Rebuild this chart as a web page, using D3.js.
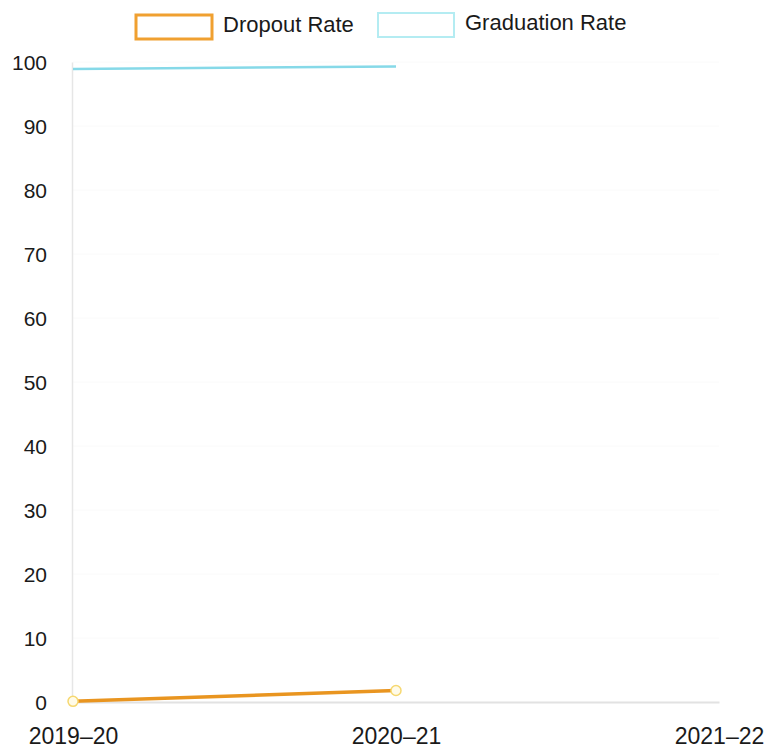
<!DOCTYPE html>
<html lang="en">
<head>
    <meta charset="UTF-8">
    <title>Dropout and Graduation Rate</title>
    <script src="https://cdnjs.cloudflare.com/ajax/libs/d3/7.8.5/d3.min.js"></script>
    <style>
        body { margin: 0; background: #fff; }
        text { font-family: "Liberation Sans", Arial, sans-serif; fill: #1a1a1a; }
    </style>
</head>
<body>
    <script>
        // Data
        var years = ["2019–20", "2020–21", "2021–22"];
        var dropoutRate = [0.1, 1.8];
        var graduationRate = [98.9, 99.3];
        var yTicks = [0, 10, 20, 30, 40, 50, 60, 70, 80, 90, 100];

        var svg = d3.select("body")
            .append("svg")
            .attr("width", 765)
            .attr("height", 750);

        // Scales
        var xScale = d3.scalePoint().domain(years).range([73, 719]);
        var yScale = d3.scaleLinear().domain([0, 100]).range([702, 62]);

        // Very faint gridlines
        svg.append("g")
            .selectAll("line")
            .data(yTicks.slice(1))
            .enter()
            .append("line")
            .attr("x1", 73).attr("x2", 719)
            .attr("y1", function(d) { return yScale(d); })
            .attr("y2", function(d) { return yScale(d); })
            .attr("stroke", "#fafafa")
            .attr("stroke-width", 1);

        // Y axis
        var yAxis = d3.axisLeft(yScale).tickValues(yTicks).tickSize(0).tickPadding(25);
        var gy = svg.append("g").attr("transform", "translate(72,0)").call(yAxis);
        gy.select(".domain").attr("stroke", "#e6e6e6").attr("stroke-width", 1.5);
        gy.selectAll("text")
            .style("font-size", "21px")
            .attr("dy", "0.35em");

        // X axis
        var xAxis = d3.axisBottom(xScale).tickSize(0).tickPadding(26);
        var gx = svg.append("g").attr("transform", "translate(0," + yScale(0) + ")").call(xAxis);
        gx.select(".domain").attr("stroke", "#e2e2e2").attr("stroke-width", 2);
        gx.selectAll("text").style("font-size", "23px");

        // Lines
        var line = d3.line()
            .x(function(d, i) { return xScale(years[i]); })
            .y(function(d) { return yScale(d); });

        svg.append("path")
            .datum(graduationRate)
            .attr("d", line)
            .attr("fill", "none")
            .attr("stroke", "#86d9e8")
            .attr("stroke-width", 2.5);

        svg.append("path")
            .datum(dropoutRate)
            .attr("d", line)
            .attr("fill", "none")
            .attr("stroke", "#e99520")
            .attr("stroke-width", 3.5);

        // Dropout points
        svg.append("g")
            .selectAll("circle")
            .data(dropoutRate)
            .enter()
            .append("circle")
            .attr("cx", function(d, i) { return xScale(years[i]); })
            .attr("cy", function(d) { return yScale(d); })
            .attr("r", 5)
            .attr("fill", "#fffbe8")
            .attr("stroke", "#f6d870")
            .attr("stroke-width", 1.5);

        // Legend
        var legend = [
            { name: "Dropout Rate", color: "#f0a030", width: 3, x: 136, y: 15 },
            { name: "Graduation Rate", color: "#b4ecf2", width: 2, x: 378, y: 13 }
        ];
        var lg = svg.append("g").selectAll("g").data(legend).enter().append("g");
        lg.append("rect")
            .attr("x", function(d) { return d.x; })
            .attr("y", function(d) { return d.y; })
            .attr("width", 76)
            .attr("height", 24)
            .attr("fill", "none")
            .attr("stroke", function(d) { return d.color; })
            .attr("stroke-width", function(d) { return d.width; });
        lg.append("text")
            .attr("x", function(d) { return d.x + 87; })
            .attr("y", function(d) { return d.y + 9; })
            .attr("dy", "0.35em")
            .style("font-size", "22px")
            .text(function(d) { return d.name; });
    </script>
</body>
</html>
